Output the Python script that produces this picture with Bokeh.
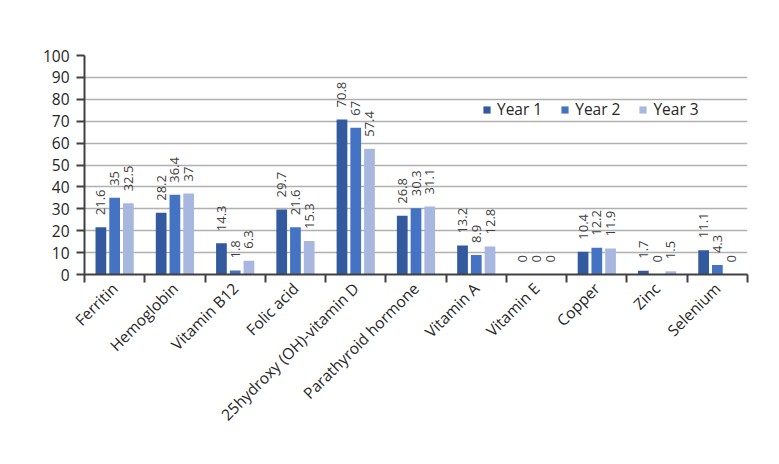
import numpy as np
from bokeh.plotting import figure
from bokeh.models import (ColumnDataSource, FixedTicker, Label, Legend, LegendItem)
from bokeh.embed import file_html
from bokeh.resources import INLINE

categories = ["Ferritin", "Hemoglobin", "Vitamin B12", "Folic acid",
              "25hydroxy (OH)-vitamin D", "Parathyroid hormone", "Vitamin A",
              "Vitamin E", "Copper", "Zinc", "Selenium"]
year1 = [21.6, 28.2, 14.3, 29.7, 70.8, 26.8, 13.2, 0, 10.4, 1.7, 11.1]
year2 = [35, 36.4, 1.8, 21.6, 67, 30.3, 8.9, 0, 12.2, 0, 4.3]
year3 = [32.5, 37, 6.3, 15.3, 57.4, 31.1, 12.8, 0, 11.9, 1.5, 0]
series_names = ["Year 1", "Year 2", "Year 3"]
series_values = [year1, year2, year3]
colors = ["#335a9f", "#4573c4", "#a8b7df"]
y_ticks = list(range(0, 101, 10))

FONT = "Open Sans"
n = len(categories)
centers = np.arange(n) + 0.5

p = figure(width=763, height=448, x_range=(0, n), y_range=(0, 100),
           output_backend="svg", toolbar_location=None,
           min_border_left=84, min_border_right=16, min_border_top=55,
           min_border_bottom=174)
p.outline_line_color = None
p.xgrid.visible = False
p.ygrid.grid_line_color = "#b0b0b0"
p.ygrid.grid_line_width = 1.5
p.ygrid.ticker = FixedTicker(ticks=y_ticks)

# y axis
p.yaxis.ticker = FixedTicker(ticks=y_ticks)
p.yaxis.axis_line_color = "#404040"
p.yaxis.axis_line_width = 2
p.yaxis.major_tick_line_color = "#404040"
p.yaxis.major_tick_line_width = 2
p.yaxis.major_tick_out = 8
p.yaxis.major_tick_in = 0
p.yaxis.minor_tick_line_color = None
p.yaxis.major_label_text_font = FONT
p.yaxis.major_label_text_font_size = "15.5px"
p.yaxis.major_label_text_color = "#262626"
p.yaxis.major_label_standoff = 7

# x axis: labels at centers, tick marks at boundaries
p.xaxis.ticker = FixedTicker(ticks=list(centers), minor_ticks=list(range(n + 1)))
p.xaxis.major_label_overrides = {float(c): name for c, name in zip(centers, categories)}
p.xaxis.major_tick_line_color = None
p.xaxis.major_tick_out = 0
p.xaxis.major_tick_in = 0
p.xaxis.minor_tick_line_color = "#404040"
p.xaxis.minor_tick_line_width = 2
p.xaxis.minor_tick_out = 8
p.xaxis.minor_tick_in = 0
p.xaxis.axis_line_color = "#404040"
p.xaxis.axis_line_width = 2
p.xaxis.major_label_orientation = np.pi / 4
p.xaxis.major_label_text_font = FONT
p.xaxis.major_label_text_font_size = "15.5px"
p.xaxis.major_label_text_color = "#262626"
p.xaxis.major_label_standoff = 3

offsets = [-0.228, 0.0, 0.228]
bar_w = 0.178
items = []
for name, vals, col, off in zip(series_names, series_values, colors, offsets):
    src = ColumnDataSource(dict(x=centers + off, top=vals,
                                label=[f"{v:g}" for v in vals]))
    r = p.vbar(x="x", top="top", width=bar_w, bottom=0, source=src,
               fill_color=col, line_color=None)
    p.text(x="x", y="top", text="label", source=src, angle=np.pi / 2,
           text_align="left", text_baseline="middle", y_offset=-12,
           text_font_size="13px", text_color="#404040",
           text_font={"value": FONT})
    items.append(LegendItem(label=name, renderers=[r]))

legend = Legend(items=items, orientation="horizontal", location=(398, 154),
                glyph_width=9, glyph_height=9, label_standoff=6, spacing=18,
                padding=0, margin=0, border_line_color=None,
                background_fill_alpha=0, label_text_font=FONT,
                label_text_font_size="15.5px", label_text_color="#262626",
                label_height=20)
p.add_layout(legend)

p.add_layout(Label(x=-0.36, y=110, text="%", text_align="center",
                   text_baseline="middle", text_font=FONT,
                   text_font_size="15.5px", text_color="#262626"))

open("out.html", "w").write(file_html(p, INLINE))
